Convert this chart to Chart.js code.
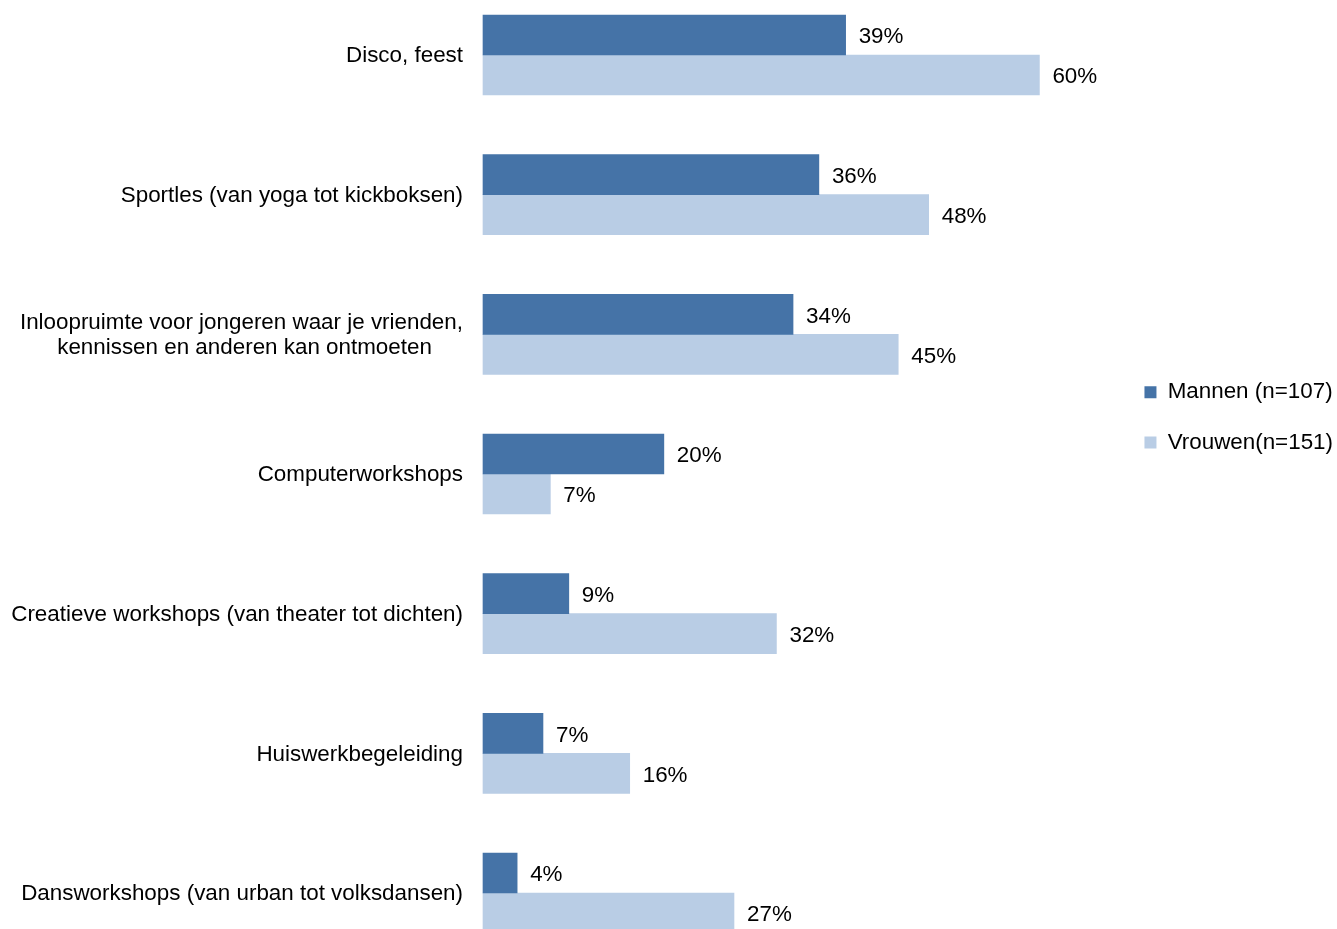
<!DOCTYPE html>
<html>
<head>
<meta charset="utf-8">
<script src="https://cdn.jsdelivr.net/npm/chart.js@4.4.1/dist/chart.umd.min.js"></script>
<style>
html, body { margin: 0; padding: 0; background: #fff; overflow: hidden; }
#wrap { position: relative; width: 1337px; height: 929px; }
</style>
</head>
<body>
<div id="wrap"><canvas id="c"></canvas></div>
<script>
const categories = [
  'Disco, feest',
  'Sportles (van yoga tot kickboksen)',
  ['Inloopruimte voor jongeren waar je vrienden,', 'kennissen en anderen kan ontmoeten'],
  'Computerworkshops',
  'Creatieve workshops (van theater tot dichten)',
  'Huiswerkbegeleiding',
  'Dansworkshops (van urban tot volksdansen)'
];
const seriesNames = ['Mannen (n=107)', 'Vrouwen(n=151)'];
const mannen = [39.3, 36.4, 33.6, 19.6, 9.3, 6.5, 3.7];
const vrouwen = [60.3, 48.3, 45.0, 7.3, 31.8, 15.9, 27.2];
const xMin = 0;
const xMax = 68;

const FAMILY = '"Liberation Sans", Arial, Helvetica, sans-serif';
const FSIZE = 22.4;
const FONT = FSIZE + 'px ' + FAMILY;
Chart.defaults.font.family = FAMILY;
Chart.defaults.font.size = FSIZE;
Chart.defaults.color = '#000';

const measureCtx = document.createElement('canvas').getContext('2d');
function centerLines(label) {
  if (!Array.isArray(label)) return label;
  measureCtx.font = FONT;
  const widths = label.map(l => measureCtx.measureText(l).width);
  const maxW = Math.max(...widths);
  const sp = measureCtx.measureText(' ').width;
  return label.map((l, i) => l + ' '.repeat(Math.round((maxW - widths[i]) / 2 / sp)));
}

const valueLabels = {
  id: 'valueLabels',
  afterDatasetsDraw(chart) {
    const ctx = chart.ctx;
    ctx.save();
    ctx.font = FONT;
    ctx.fillStyle = '#000';
    ctx.textAlign = 'left';
    ctx.textBaseline = 'middle';
    chart.data.datasets.forEach((ds, di) => {
      const meta = chart.getDatasetMeta(di);
      meta.data.forEach((bar, i) => {
        ctx.fillText(Math.round(ds.data[i]) + '%', bar.x + 13, bar.y + 2);
      });
    });
    ctx.restore();
  }
};

const legendPlacer = {
  id: 'legendPlacer',
  afterLayout(chart) {
    const lg = chart.legend;
    if (!lg) return;
    lg.top = 353;
    lg.left += 6;
    lg.right += 6;
  }
};

new Chart(document.getElementById('c'), {
  type: 'bar',
  data: {
    labels: categories,
    datasets: [
      { label: seriesNames[0], data: mannen, backgroundColor: '#4573A7', borderWidth: 0, barThickness: 40, clip: false },
      { label: seriesNames[1], data: vrouwen, backgroundColor: '#B9CDE5', borderWidth: 0, barThickness: 40, clip: false }
    ]
  },
  options: {
    indexAxis: 'y',
    responsive: true,
    maintainAspectRatio: false,
    animation: false,
    layout: { padding: { top: 55, bottom: 36, left: 0, right: 0 } },
    scales: {
      x: { display: false, min: xMin, max: xMax },
      y: {
        type: 'category',
        offset: false,
        grid: { display: false, drawTicks: false },
        border: { display: false },
        ticks: {
          autoSkip: false,
          padding: 20,
          labelOffset: 1,
          color: '#000',
          font: { size: FSIZE, family: FAMILY, lineHeight: 1.1 },
          callback: function (value) { return centerLines(this.getLabelForValue(value)); }
        },
        afterFit(scale) { scale.width = 483; }
      }
    },
    plugins: {
      legend: {
        position: 'right',
        align: 'start',
        labels: {
          boxWidth: 12,
          boxHeight: 12,
          padding: 28,
          color: '#000',
          font: { size: FSIZE, family: FAMILY }
        }
      },
      tooltip: { enabled: false }
    }
  },
  plugins: [valueLabels, legendPlacer]
});
</script>
</body>
</html>
